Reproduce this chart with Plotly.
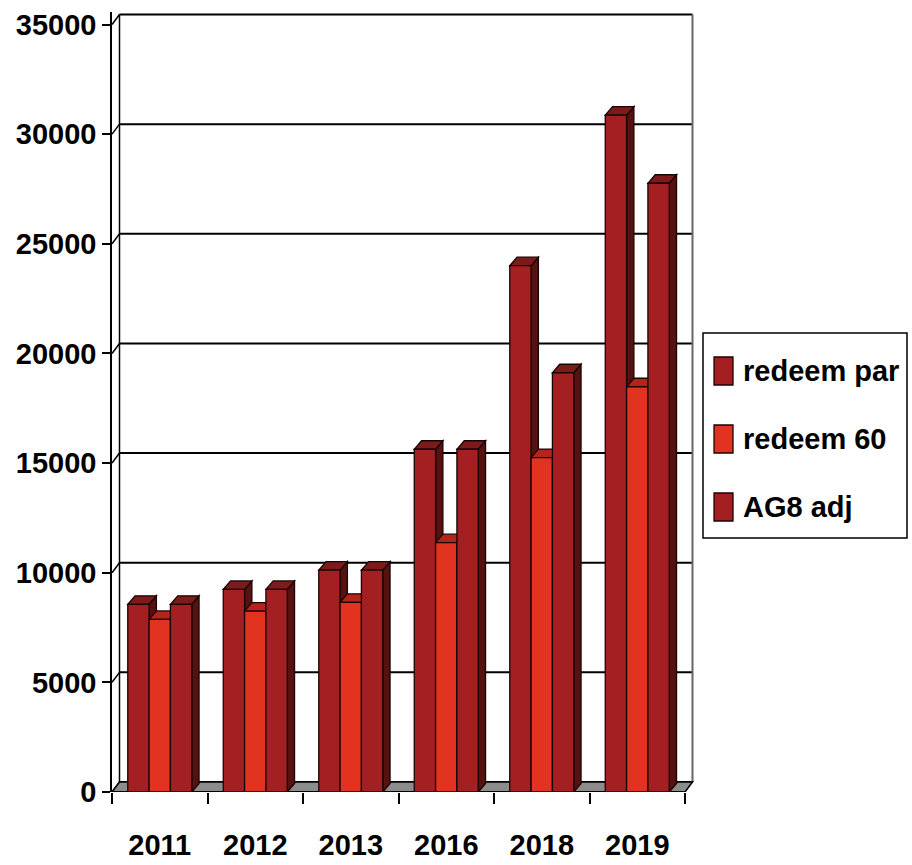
import plotly.graph_objects as go

# ---- data ----
years = ["2011", "2012", "2013", "2016", "2018", "2019"]
series_names = ["redeem par", "redeem 60", "AG8 adj"]
redeem_par = [8560, 9240, 10120, 15630, 24000, 30870]
redeem_60 = [7870, 8250, 8650, 11370, 15250, 18480]
ag8_adj = [8560, 9240, 10120, 15630, 19120, 27760]
y_ticks = [0, 5000, 10000, 15000, 20000, 25000, 30000, 35000]

series_values = [redeem_par, redeem_60, ag8_adj]
front_colors = ["#A31F22", "#E1331F", "#A31F22"]
top_colors = ["#7D1A1A", "#B5241B", "#7D1A1A"]
side_colors = ["#561111", "#7A1A12", "#561111"]

FONT = "Liberation Sans, Arial, sans-serif"
FSIZE = 29

# ---- geometry (pixel layout) ----
W, H = 912, 865
left_px, right_px = 112, 695
bottom_px, top_px = 792, 12
plot_w = right_px - left_px
plot_h = bottom_px - top_px
cat_px = (685 - 112) / 6.0           # px per category
y_max_val = 35000
y_px_per_unit = (792 - 24.5) / y_max_val
x_lo = -0.5
x_hi = x_lo + plot_w / cat_px
y_lo = 0
y_hi = plot_h / y_px_per_unit


def px_x(p):
    return (p - left_px) / plot_w


def px_y(p):
    return (bottom_px - p) / plot_h


# depth offsets (in data units)
dxw = 7.5 / cat_px
dyw = 10 / y_px_per_unit
dxb = 7.3 / cat_px
dyb = 8.5 / y_px_per_unit

bargap = 0.33
n = len(series_values)
bw = (1 - bargap) / n

fig = go.Figure()
for j, (name, vals) in enumerate(zip(series_names, series_values)):
    fig.add_trace(go.Bar(
        x=years, y=vals, name=name,
        marker=dict(color=front_colors[j], line=dict(color="#1a0505", width=1.3)),
        showlegend=False,
    ))

shapes = []
xL, xR = -0.5, 5.5
shapes.append(dict(type="rect", xref="x", yref="y", x0=xL + dxw, x1=xR + dxw, y0=dyw, y1=y_max_val + dyw,
                   fillcolor="white", line=dict(width=0), layer="below"))
for v in y_ticks:
    shapes.append(dict(type="line", xref="x", yref="y", x0=xL + dxw, x1=xR + dxw, y0=v + dyw, y1=v + dyw,
                       line=dict(color="black", width=2), layer="below"))
    shapes.append(dict(type="line", xref="x", yref="y", x0=xL, x1=xL + dxw, y0=v, y1=v + dyw,
                       line=dict(color="black", width=1.5), layer="below"))
shapes.append(dict(type="line", xref="x", yref="y", x0=xL + dxw, x1=xL + dxw, y0=dyw, y1=y_max_val + dyw,
                   line=dict(color="black", width=1.5), layer="below"))
shapes.append(dict(type="line", xref="x", yref="y", x0=xR + dxw, x1=xR + dxw, y0=dyw, y1=y_max_val + dyw,
                   line=dict(color="#666666", width=2), layer="below"))
shapes.append(dict(type="path", xref="x", yref="y",
                   path=f"M{xL},0 L{xR},0 L{xR + dxw},{dyw} L{xL + dxw},{dyw} Z",
                   fillcolor="#8C8C8C", line=dict(color="black", width=1.5), layer="below"))

sides, tops = [], []
for j, vals in enumerate(series_values):
    for i, v in enumerate(vals):
        xl = i - (1 - bargap) / 2 + j * bw
        xr = xl + bw
        sides.append(dict(type="path", xref="x", yref="y",
                          path=f"M{xr},0 L{xr},{v} L{xr + dxb},{v + dyb} L{xr + dxb},{dyb} Z",
                          fillcolor=side_colors[j], line=dict(color="#1a0505", width=1.3), layer="between"))
        tops.append(dict(type="path", xref="x", yref="y",
                         path=f"M{xl},{v} L{xr},{v} L{xr + dxb},{v + dyb} L{xl + dxb},{v + dyb} Z",
                         fillcolor=top_colors[j], line=dict(color="#1a0505", width=1.3), layer="between"))
shapes += sides + tops

shapes.append(dict(type="line", xref="x", yref="y", x0=xL, x1=xR, y0=0, y1=0,
                   line=dict(color="black", width=2), layer="below"))

# ---- manual legend (paper coords relative to plot area) ----
shapes.append(dict(type="rect", xref="paper", yref="paper",
                   x0=px_x(703), x1=px_x(907), y0=px_y(538), y1=px_y(333),
                   fillcolor="white", line=dict(color="black", width=1.5)))
annotations = []
entry_centers = [371, 439, 507]
for j, (name, yc) in enumerate(zip(series_names, entry_centers)):
    shapes.append(dict(type="rect", xref="paper", yref="paper",
                       x0=px_x(714), x1=px_x(733), y0=px_y(yc + 14), y1=px_y(yc - 14),
                       fillcolor=front_colors[j], line=dict(color="#1a0505", width=1.3)))
    annotations.append(dict(xref="paper", yref="paper", x=px_x(741), y=px_y(yc), xanchor="left", yanchor="middle",
                            text=name, showarrow=False,
                            font=dict(family=FONT, size=FSIZE, color="black", weight="bold")))

fig.update_layout(
    width=W, height=H,
    margin=dict(l=left_px, r=W - right_px, t=top_px, b=H - bottom_px, pad=0, autoexpand=False),
    paper_bgcolor="white", plot_bgcolor="white",
    barmode="group", bargap=bargap, bargroupgap=0,
    shapes=shapes, annotations=annotations,
    showlegend=False,
    xaxis=dict(type="category", categoryorder="array", categoryarray=years,
               range=[x_lo, x_hi], tickson="boundaries", ticks="outside", ticklen=11,
               tickcolor="black", tickwidth=1.5, showgrid=False, showline=False, zeroline=False,
               ticklabelstandoff=33, automargin=False,
               tickfont=dict(family=FONT, size=FSIZE, color="black", weight="bold")),
    yaxis=dict(range=[y_lo, y_hi], tickvals=y_ticks, ticktext=[str(v) for v in y_ticks],
               ticks="outside", ticklen=8, tickcolor="black", tickwidth=1.5,
               showgrid=False, zeroline=False, showline=True, linecolor="black", linewidth=1.5,
               ticklabelstandoff=0, automargin=False,
               tickfont=dict(family=FONT, size=FSIZE, color="black", weight="bold")),
)

fig.write_html("out.html")
